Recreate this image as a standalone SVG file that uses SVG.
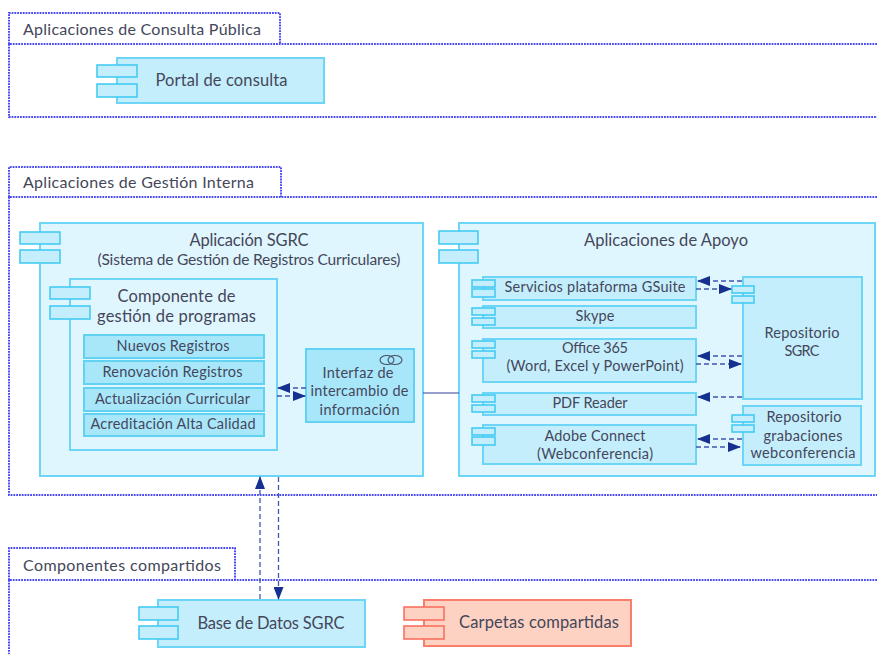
<svg xmlns="http://www.w3.org/2000/svg" width="877" height="654" viewBox="0 0 877 654">
<style>
text{font-family:"Lato","Liberation Sans",sans-serif;fill:#44475a;text-anchor:middle}
.pkg{fill:none;stroke:#4a4af2;stroke-width:2;stroke-dasharray:1.8 1}
.c{fill:#c4eefc;stroke:#6dd5f5;stroke-width:2}
.o{fill:#e0f6fe;stroke:#6dd5f5;stroke-width:2}
.i{fill:#a8e6fa;stroke:#62d2f3;stroke-width:2}
.t{fill:#c4eefc;stroke:#45cbf3;stroke-width:1.6}
.cr{fill:#fdd2c2;stroke:#fb7d6c;stroke-width:2}
.tr{fill:#fdd2c2;stroke:#fb7060;stroke-width:1.6}
.d{fill:none;stroke:#4257ae;stroke-width:1.3;stroke-dasharray:5 3}
.s{fill:none;stroke:#34409a;stroke-width:1.2}
.l{font-size:16.500px}.m{font-size:15.500px}.n{font-size:14.500px}
.p{text-anchor:start;font-size:16px}
</style>
<defs>
<marker id="a" markerWidth="13" markerHeight="10" refX="12" refY="5" orient="auto" markerUnits="userSpaceOnUse"><path d="M0 0L13 5L0 10Z" fill="#16308f"/></marker>
</defs>

<g id="pkg-consulta">
<path class="pkg" d="M877 44H9V117H877M9 44V13H280V44"/>
<text class="p" x="23" y="35" textLength="238">Aplicaciones de Consulta Pública</text>
</g>
<g id="portal">
<rect class="c" x="117" y="58" width="207" height="45"/>
<rect class="t" x="97" y="65" width="40" height="12"/><rect class="t" x="97" y="84" width="40" height="13"/>
<text class="l" x="221.500" y="86" textLength="132">Portal de consulta</text>
</g>

<g id="pkg-gestion">
<path class="pkg" d="M877 197H9V495H877M9 197V167H281V197"/>
<text class="p" x="23" y="188" textLength="231">Aplicaciones de Gestión Interna</text>
</g>

<g id="app-sgrc">
<rect class="o" x="40" y="223" width="383" height="253"/>
<rect class="t" x="20" y="232" width="40" height="12"/><rect class="t" x="20" y="250" width="40" height="13"/>
<text class="l" x="249" y="246" textLength="119">Aplicación SGRC</text>
<text class="m" x="249" y="265" textLength="303">(Sistema de Gestión de Registros Curriculares)</text>
</g>
<g id="componente">
<rect class="o" x="70" y="279" width="207" height="171"/>
<rect class="t" x="50" y="287" width="40" height="12"/><rect class="t" x="50" y="306" width="40" height="13"/>
<text class="l" x="176.500" y="302" textLength="118">Componente de</text>
<text class="l" x="176.500" y="322" textLength="159">gestión de programas</text>
</g>
<g id="nuevos"><rect class="i" x="84" y="335" width="180" height="23"/><text class="n" x="173" y="351" textLength="113">Nuevos Registros</text></g>
<g id="renovacion"><rect class="i" x="84" y="361" width="180" height="23"/><text class="n" x="172.500" y="377" textLength="140">Renovación Registros</text></g>
<g id="actualizacion"><rect class="i" x="84" y="388" width="180" height="23"/><text class="n" x="172.500" y="404" textLength="155">Actualización Curricular</text></g>
<g id="acreditacion"><rect class="i" x="84" y="414" width="180" height="22"/><text class="n" x="173" y="429" textLength="165">Acreditación Alta Calidad</text></g>
<g id="interfaz">
<rect class="i" x="306" y="349" width="108" height="73"/>
<ellipse cx="387" cy="360" rx="7" ry="4.500" fill="none" stroke="#44506a" stroke-width="1.100"/>
<ellipse cx="395" cy="360" rx="7" ry="4.500" fill="none" stroke="#44506a" stroke-width="1.100"/>
<text class="n" x="358" y="378" textLength="71">Interfaz de</text>
<text class="n" x="359.500" y="396" textLength="98">intercambio de</text>
<text class="n" x="359.500" y="415" textLength="80">información</text>
</g>

<g id="app-apoyo">
<rect class="o" x="459" y="223" width="416" height="253"/>
<rect class="t" x="439" y="231" width="39" height="13"/><rect class="t" x="439" y="250" width="39" height="13"/>
<text class="l" x="666" y="246" textLength="164">Aplicaciones de Apoyo</text>
</g>
<g id="gsuite"><rect class="c" x="483" y="277" width="213" height="23"/>
<rect class="t" x="472" y="280" width="23" height="7"/><rect class="t" x="472" y="289" width="23" height="8"/>
<text class="n" x="595" y="292" textLength="181">Servicios plataforma GSuite</text></g>
<g id="skype"><rect class="c" x="483" y="306" width="213" height="22"/>
<rect class="t" x="472" y="308" width="23" height="7"/><rect class="t" x="472" y="318" width="23" height="7"/>
<text class="n" x="595" y="321" textLength="39">Skype</text></g>
<g id="office"><rect class="c" x="483" y="339" width="213" height="43"/>
<rect class="t" x="472" y="341" width="23" height="7"/><rect class="t" x="472" y="351" width="23" height="7"/>
<text class="n" x="595" y="353" textLength="66">Office 365</text>
<text class="n" x="595" y="371" textLength="177">(Word, Excel y PowerPoint)</text></g>
<g id="pdf"><rect class="c" x="483" y="393" width="213" height="22"/>
<rect class="t" x="472" y="395" width="23" height="7"/><rect class="t" x="472" y="405" width="23" height="7"/>
<text class="n" x="590" y="408" textLength="75">PDF Reader</text></g>
<g id="adobe"><rect class="c" x="483" y="425" width="213" height="39"/>
<rect class="t" x="472" y="428" width="23" height="7"/><rect class="t" x="472" y="437" width="23" height="8"/>
<text class="n" x="595" y="441" textLength="101">Adobe Connect</text>
<text class="n" x="595" y="459" textLength="116">(Webconferencia)</text></g>
<g id="repo-sgrc"><rect class="c" x="743" y="277" width="119" height="122"/>
<rect class="t" x="732" y="286" width="22" height="7"/><rect class="t" x="732" y="296" width="22" height="7"/>
<text class="n" x="802" y="338" textLength="75">Repositorio</text>
<text class="n" x="802" y="356" textLength="35">SGRC</text></g>
<g id="repo-grab"><rect class="c" x="743" y="406" width="118" height="59"/>
<rect class="t" x="732" y="415" width="22" height="7"/><rect class="t" x="732" y="425" width="22" height="7"/>
<text class="n" x="804" y="422" textLength="75">Repositorio</text>
<text class="n" x="803" y="441" textLength="79">grabaciones</text>
<text class="n" x="803" y="458" textLength="105">webconferencia</text></g>

<g id="pkg-compartidos">
<path class="pkg" d="M877 580H9V654M9 580V548H235V580"/>
<text class="p" x="23" y="571" textLength="198">Componentes compartidos</text>
</g>
<g id="base-datos">
<rect class="c" x="158" y="600" width="207" height="47"/>
<rect class="t" x="139" y="607" width="39" height="13"/><rect class="t" x="139" y="626" width="39" height="13"/>
<text class="l" x="271" y="629" textLength="147">Base de Datos SGRC</text>
</g>
<g id="carpetas">
<rect class="cr" x="424" y="600" width="207" height="46"/>
<rect class="tr" x="404" y="607" width="40" height="13"/><rect class="tr" x="404" y="626" width="40" height="13"/>
<text class="l" x="539" y="628" textLength="160">Carpetas compartidas</text>
</g>

<g id="connectors">
<path class="d" d="M306 388H278" marker-end="url(#a)"/>
<path class="d" d="M277 396H305" marker-end="url(#a)"/>
<path class="s" d="M423 393H459"/>
<path class="d" d="M742 281H698" marker-end="url(#a)"/>
<path class="d" d="M696 289H731" marker-end="url(#a)"/>
<path class="d" d="M742 356H698" marker-end="url(#a)"/>
<path class="d" d="M696 364H741" marker-end="url(#a)"/>
<path class="d" d="M742 397H698" marker-end="url(#a)"/>
<path class="d" d="M742 439H698" marker-end="url(#a)"/>
<path class="d" d="M696 447H740" marker-end="url(#a)"/>
<path class="d" d="M260 599V477" marker-end="url(#a)"/>
<path class="d" d="M278.500 477V599" marker-end="url(#a)"/>
</g>
</svg>
